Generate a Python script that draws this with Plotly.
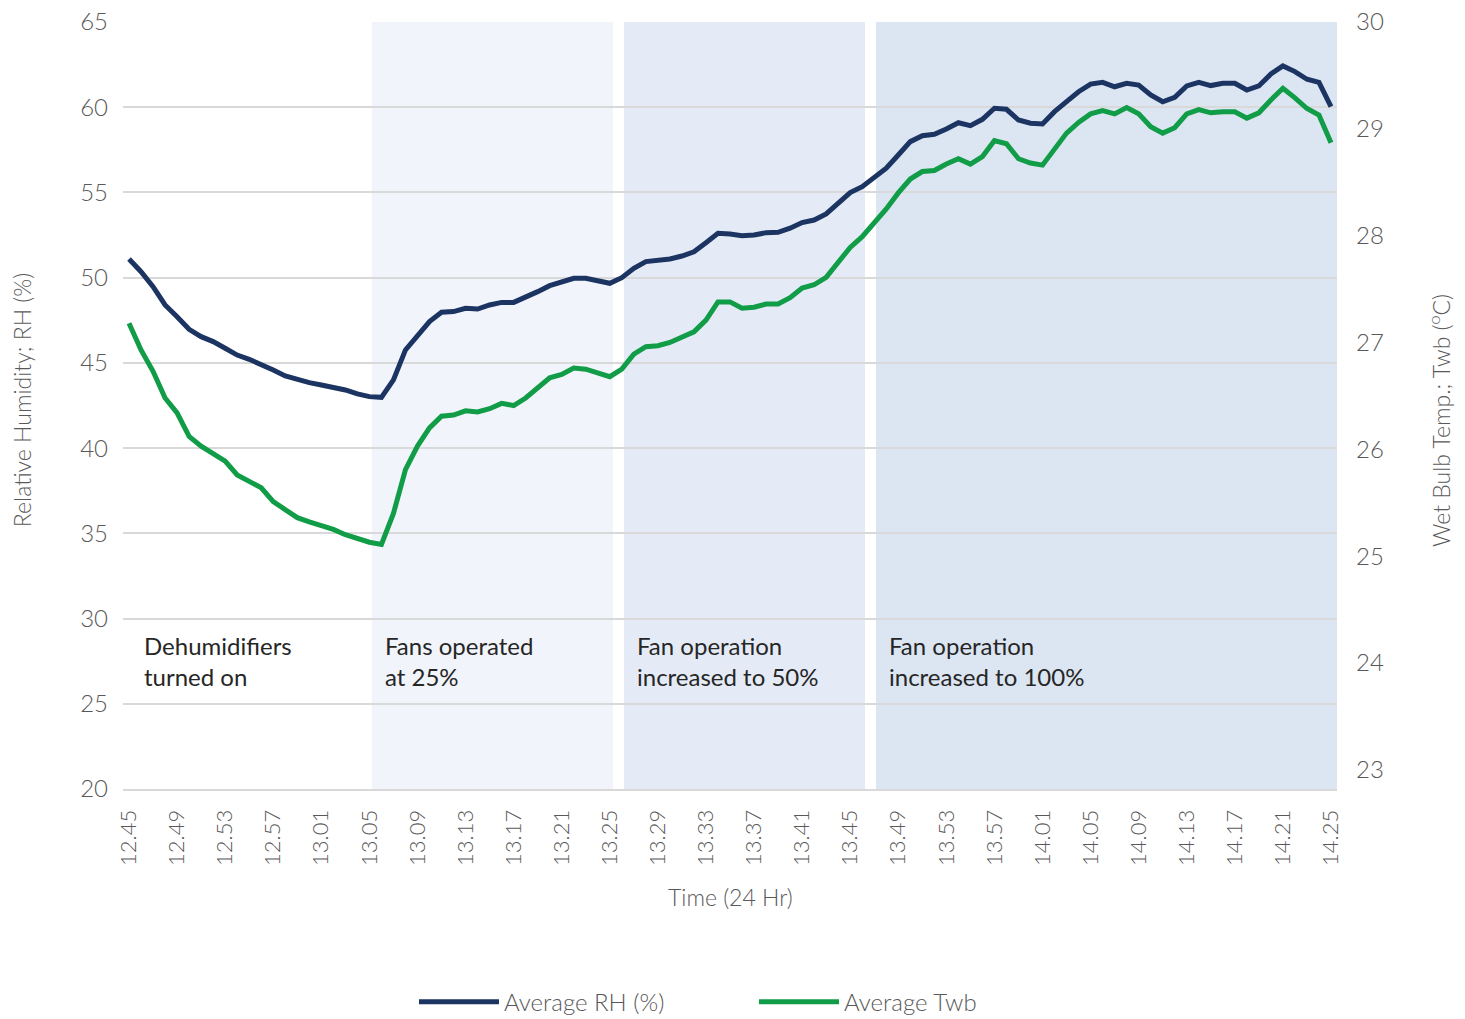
import plotly.graph_objects as go

# ---- data ----
times = []
for h, m0, m1 in [(12, 45, 59), (13, 0, 59), (14, 0, 25)]:
    for m in range(m0, m1 + 1):
        times.append(f"{h}.{m:02d}")

avg_rh = [
    51.1, 50.35, 49.47, 48.40, 47.71, 46.97, 46.54, 46.25, 45.86, 45.46,
    45.21, 44.92, 44.58, 44.23, 44.00, 43.84, 43.70, 43.57, 43.41, 43.18,
    43.02, 42.98, 44.00, 45.76, 46.64, 47.42, 47.97, 48.01, 48.20, 48.16,
    48.40, 48.55, 48.55, 48.83, 49.18, 49.53, 49.71, 49.96, 49.96, 49.83,
    49.67, 50.00, 50.55, 50.94, 51.00, 51.10, 51.27, 51.52, 52.05, 52.60,
    52.56, 52.46, 52.50, 52.64, 52.66, 52.90, 53.23, 53.38, 53.74, 54.36,
    54.99, 55.34, 55.85, 56.42, 57.20, 57.98, 58.33, 58.41, 58.72, 59.09,
    58.92, 59.29, 59.94, 59.88, 59.25, 59.06, 59.02, 59.74, 60.33, 60.91,
    61.36, 61.46, 61.20, 61.40, 61.30, 60.72, 60.32, 60.58, 61.25, 61.46,
    61.27, 61.40, 61.40, 61.01, 61.25, 61.95, 62.42, 62.09, 61.64, 61.46,
    60.03,
]

avg_twb = [
    27.18, 26.93, 26.73, 26.48, 26.34, 26.12, 26.03, 25.96, 25.89, 25.76,
    25.70, 25.64, 25.51, 25.43, 25.36, 25.32, 25.29, 25.25, 25.20, 25.16,
    25.13, 25.11, 25.40, 25.81, 26.03, 26.20, 26.31, 26.32, 26.36, 26.35,
    26.38, 26.43, 26.41, 26.48, 26.57, 26.67, 26.70, 26.76, 26.75, 26.71,
    26.68, 26.75, 26.89, 26.96, 26.97, 27.00, 27.05, 27.10, 27.21, 27.38,
    27.38, 27.32, 27.33, 27.36, 27.36, 27.42, 27.51, 27.54, 27.61, 27.75,
    27.89, 27.99, 28.12, 28.25, 28.40, 28.53, 28.60, 28.61, 28.67, 28.72,
    28.67, 28.74, 28.89, 28.86, 28.72, 28.68, 28.66, 28.82, 28.96, 29.06,
    29.14, 29.17, 29.14, 29.20, 29.14, 29.02, 28.96, 29.01, 29.14, 29.18,
    29.15, 29.16, 29.16, 29.10, 29.15, 29.27, 29.38, 29.29, 29.19, 29.13,
    28.87,
]

tick_labels = ["12.45", "12.49", "12.53", "12.57", "13.01", "13.05", "13.09",
               "13.13", "13.17", "13.21", "13.25", "13.29", "13.33", "13.37",
               "13.41", "13.45", "13.49", "13.53", "13.57", "14.01", "14.05",
               "14.09", "14.13", "14.17", "14.21", "14.25"]

phase_labels = ["Dehumidifiers<br>turned on", "Fans operated<br>at 25%",
                "Fan operation<br>increased to 50%", "Fan operation<br>increased to 100%"]
phase_start = [0, 20, 41, 62]          # index of time where each phase begins
band_edges = [(20.2, 40.27), (41.18, 61.23), (62.15, 100.5)]
band_colors = ["#f1f4fa", "#e5ebf6", "#dce5f2"]

FONT = "Lato"
GRAY = "#595959"
LIGHT = dict(family=FONT, color=GRAY, weight=300)

fig = go.Figure()
fig.add_trace(go.Scatter(x=times, y=avg_rh, name="Average RH (%)", mode="lines",
                         line=dict(color="#1b3462", width=5), yaxis="y"))
fig.add_trace(go.Scatter(x=times, y=avg_twb, name="Average Twb", mode="lines",
                         line=dict(color="#119c47", width=5), yaxis="y2"))

shapes = []
for (x0, x1), c in zip(band_edges, band_colors):
    shapes.append(dict(type="rect", xref="x", yref="paper", x0=x0, x1=x1, y0=0, y1=1,
                       fillcolor=c, line=dict(width=0), layer="below"))

annotations = []
for lab, s in zip(phase_labels, phase_start):
    annotations.append(dict(text=lab, x=s + 1.1, y=27.5, xref="x", yref="y",
                            xanchor="left", yanchor="middle", align="left", showarrow=False,
                            font=dict(family=FONT, size=24, color="#262626")))
annotations += [
    dict(text="Relative Humidity; RH (%)", textangle=-90, xref="paper", yref="paper",
         x=-0.0832, y=0.507, xanchor="center", yanchor="middle", showarrow=False,
         font=dict(size=23, **LIGHT)),
    dict(text="Wet Bulb Temp.; Twb (<sup>o</sup>C)", textangle=-90, xref="paper", yref="paper",
         x=1.085, y=0.48, xanchor="center", yanchor="middle", showarrow=False,
         font=dict(size=23, **LIGHT)),
    dict(text="Time (24 Hr)", xref="paper", yref="paper", x=0.5, y=-0.141,
         xanchor="center", yanchor="middle", showarrow=False,
         font=dict(size=23, **LIGHT)),
]

fig.update_layout(
    width=1465, height=1019,
    margin=dict(l=123, r=128, t=22, b=230, autoexpand=False),
    plot_bgcolor="white", paper_bgcolor="white",
    font=dict(family=FONT, color=GRAY),
    shapes=shapes, annotations=annotations,
    showlegend=True,
    legend=dict(orientation="h", x=0.2397, y=-0.278, xanchor="left", yanchor="middle",
                font=dict(size=24, **LIGHT), entrywidth=245,
                itemwidth=80, bgcolor="rgba(0,0,0,0)"),
    xaxis=dict(type="category", range=[-0.5, 100.5], tickmode="array",
               tickvals=tick_labels, ticktext=tick_labels, tickangle=-90,
               tickfont=dict(size=22, **LIGHT), showgrid=False,
               showline=True, linecolor="#d9d9d9", linewidth=2, ticks="",
               ticklabelstandoff=10, automargin=False),
    yaxis=dict(range=[20, 65], dtick=5, tick0=20, showgrid=True, gridcolor="#d9d9d9",
               gridwidth=2, zeroline=False, showline=False, ticks="",
               tickfont=dict(size=24, **LIGHT), ticklabelstandoff=14, automargin=False,
               ticklabeloverflow="allow"),
    yaxis2=dict(range=[22.82, 30], tickvals=[23, 24, 25, 26, 27, 28, 29, 30],
                overlaying="y", side="right", showgrid=False, zeroline=False,
                showline=False, ticks="", tickfont=dict(size=24, **LIGHT),
                ticklabelstandoff=18, automargin=False, ticklabeloverflow="allow"),
)

fig.write_html("out.html", config={"displayModeBar": False},
               post_script="document.body.style.margin='0';document.body.style.overflow='hidden';")
